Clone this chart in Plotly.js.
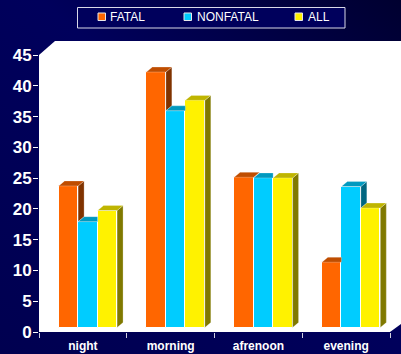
<!DOCTYPE html>
<html><head><meta charset="utf-8">
<script src="https://cdn.plot.ly/plotly-3.0.1.min.js"></script>
<style>
html,body{margin:0;padding:0;width:401px;height:354px;overflow:hidden;
background:linear-gradient(to bottom left,#000030 0%,#00005c 45%,#000050 100%);}
</style></head><body><div id="chart" style="width:401px;height:354px"></div>
<script>
const categories = ['night','morning','afrenoon','evening'];
const seriesNames = ['FATAL','NONFATAL','ALL'];
const fatal = [23.0,41.5,24.4,10.6];
const nonfatal = [17.2,35.2,24.3,22.9];
const all = [19.0,36.9,24.3,19.4];
const frontColors = ['#ff6600','#00ccff','#fff200'];
const topColors = ['#bf4d00','#0099bf','#bfb500'];
const sideColors = ['#803300','#006680','#807900'];
const yTicks = [0,5,10,15,20,25,30,35,40,45];

const values = [fatal,nonfatal,all];
const barW = 0.222, shift = 0.057, baseV = 0.73, dx = 0.068, dy = 0.81;
const xPos = categories.map((c,i)=>i+0.5);
const traces = [];
values.forEach((vals,s)=>{
  traces.push({type:'bar',name:seriesNames[s],x:xPos,y:vals,base:baseV,width:barW,showlegend:false,
    offset:shift+(s-1.5)*barW,marker:{color:frontColors[s],line:{color:'#ffffff',width:1}},hoverinfo:'y'});
});
values.forEach((vals,s)=>{
  const tx=[],ty=[],sx=[],sy=[];
  vals.forEach((v,i)=>{
    const x0=xPos[i]+shift+(s-1.5)*barW, x1=x0+barW, top=v+baseV;
    const next = s<2 ? values[s+1][i]+baseV : null;
    if(next!==null && next>=top){
      tx.push(x0,x1,x1,x0+dx,x0,null); ty.push(top,top,top+dy,top+dy,top,null);
    } else {
      tx.push(x0,x1,x1+dx,x0+dx,x0,null); ty.push(top,top,top+dy,top+dy,top,null);
      const bottom = next===null ? baseV : next;
      sx.push(x1,x1+dx,x1+dx,x1,x1,null); sy.push(top,top+dy,bottom+dy,bottom,top,null);
    }
  });
  traces.push({type:'scatter',mode:'lines',x:sx,y:sy,fill:'toself',fillcolor:sideColors[s],
    line:{color:'rgba(255,255,255,0.5)',width:0.5},showlegend:false,hoverinfo:'skip'});
  traces.push({type:'scatter',mode:'lines',x:tx,y:ty,fill:'toself',fillcolor:topColors[s],
    line:{color:'rgba(255,255,255,0.5)',width:0.5},showlegend:false,hoverinfo:'skip'});
});
const px = p => (p-39)/351, py = p => (332-p)/277;
const swatchX = [98,184,295], labelX = [110,196.5,307.5];
const shapes = [
  {type:'path',xref:'paper',yref:'paper',layer:'below',fillcolor:'#ffffff',line:{width:0},
   path:`M${px(39)},${py(332)} L${px(39)},${py(55)} L${px(55)},${py(41)} L${px(401)},${py(41)} L${px(401)},${py(324)} L${px(390)},${py(332)} Z`},
  {type:'rect',xref:'paper',yref:'paper',x0:px(77.5),x1:px(345),y0:py(28),y1:py(7.5),fillcolor:'#00005c',line:{color:'#d8d8e8',width:1}}
];
const annotations = [];
seriesNames.forEach((n,s)=>{
  shapes.push({type:'rect',xref:'paper',yref:'paper',x0:px(swatchX[s]),x1:px(swatchX[s]+7.5),y0:py(20.5),y1:py(13),
    fillcolor:frontColors[s],line:{color:'#e8e8e8',width:1}});
  annotations.push({xref:'paper',yref:'paper',x:px(labelX[s]),y:py(17),xanchor:'left',yanchor:'middle',showarrow:false,
    borderpad:0,xshift:-1,text:n,font:{size:12,color:'#ffffff'}});
});
const layout = {
  width:401,height:354,margin:{l:39,r:11,t:55,b:22,autoexpand:false},
  paper_bgcolor:'rgba(0,0,0,0)',plot_bgcolor:'rgba(0,0,0,0)',
  font:{family:'"Liberation Sans",Arial,sans-serif',color:'#ffffff'},
  bargap:0,showlegend:false,
  xaxis:{type:'linear',range:[0,4],tickmode:'array',tickvals:xPos,ticktext:categories,ticks:'outside',ticklen:3,tickcolor:'rgba(0,0,0,0)',
    tickfont:{size:12,color:'#ffffff',weight:'bold'},showgrid:false,zeroline:false,showline:false,
    minor:{tickmode:'array',tickvals:[0,1,2,3,4],ticks:'outside',ticklen:5,tickcolor:'#d0d0e0',tickwidth:1,showgrid:false}},
  yaxis:{range:[0,45],tickmode:'array',tickvals:yTicks,ticks:'outside',ticklen:5,tickcolor:'#ffffff',tickwidth:1,ticklabelstandoff:-2,
    tickfont:{size:17,color:'#ffffff',weight:'bold'},showgrid:false,zeroline:false,showline:false},
  shapes, annotations
};
Plotly.newPlot('chart',traces,layout,{displayModeBar:false});
</script></body></html>
